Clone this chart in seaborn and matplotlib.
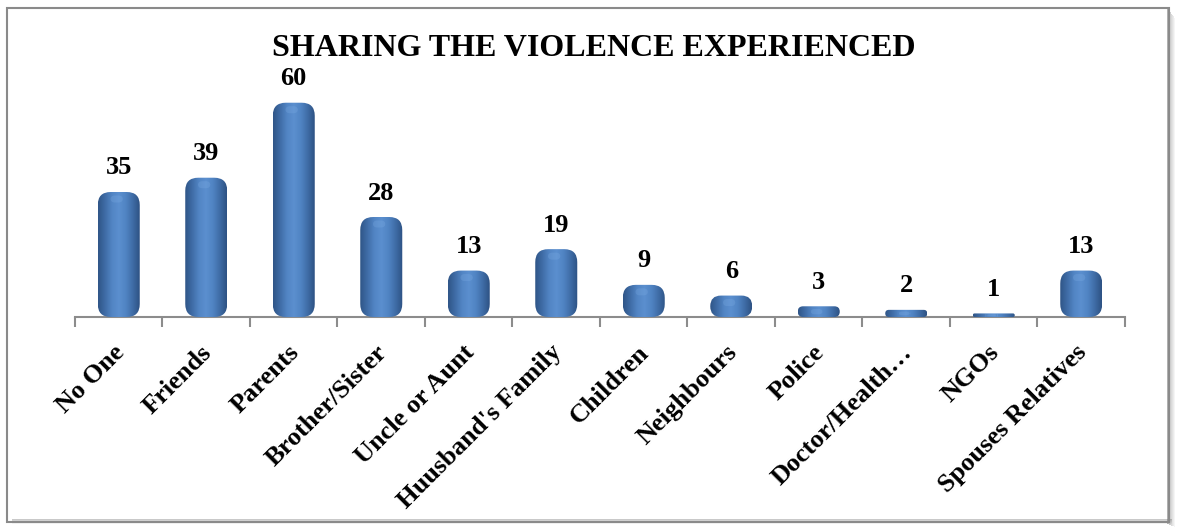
import numpy as np
import matplotlib
matplotlib.use("Agg")
import matplotlib.pyplot as plt
import matplotlib.transforms as mtransforms
from matplotlib.patches import FancyBboxPatch, Rectangle
from matplotlib.colors import LinearSegmentedColormap
import seaborn as sns

# ─── Datos ──────────────────────────────────────────────────────────────────
categories = ["No One", "Friends", "Parents", "Brother/Sister", "Uncle or Aunt",
              "Huusband's Family", "Children", "Neighbours", "Police",
              "Doctor/Health\u2026", "NGOs", "Spouses Relatives"]
values = [35, 39, 60, 28, 13, 19, 9, 6, 3, 2, 1, 13]
title = "SHARING THE VIOLENCE EXPERIENCED"

# ─── Estilo ─────────────────────────────────────────────────────────────────
sns.set_style("white")
plt.rcParams['font.family'] = ['Liberation Serif', 'DejaVu Serif']
plt.rcParams['font.weight'] = 'bold'

W, H = 1180, 528
fig = plt.figure(figsize=(W / 100, H / 100), dpi=100)
ax = fig.add_axes([75 / W, 1 - 317 / H, 1050 / W, 250 / H])

sns.barplot(x=categories, y=values, color="#4f81bd", width=0.48, ax=ax)

YMAX = 70
ax.set_xlim(-0.5, len(categories) - 0.5)
ax.set_ylim(0, YMAX)

# ─── Barras redondeadas tipo cilindro ───────────────────────────────────────
px_x = 1050 / len(categories)       # pixeles por unidad x
px_y = 250 / YMAX                   # pixeles por unidad y
aspect = px_x / px_y
grad = LinearSegmentedColormap.from_list(
    "cyl", ["#2f5587", "#3f6ca6", "#5285c4", "#5b8fcf", "#5084c3",
            "#3f6ca6", "#2d5283"])
prof = np.linspace(0, 1, 200)[None, :]

for p in list(ax.patches):
    x0, w, h = p.get_x(), p.get_width(), p.get_height()
    p.set_visible(False)
    r_px = min(13, h * px_y / 2 - 0.01, w * px_x / 2)
    r = max(r_px, 0.5) / px_x
    fb = FancyBboxPatch((x0, 0), w, h,
                        boxstyle=f"round,pad=0,rounding_size={r}",
                        mutation_aspect=aspect, facecolor="none",
                        edgecolor="none", zorder=3)
    ax.add_patch(fb)
    im = ax.imshow(prof, cmap=grad, extent=[x0, x0 + w, 0, h], aspect='auto',
                   interpolation='bicubic', zorder=3)
    im.set_clip_path(fb)
    # brillo superior suave
    hh = min(h, 14 / px_y)
    top = FancyBboxPatch((x0 + w * 0.3, h - hh * 0.75), w * 0.3, hh * 0.5,
                         boxstyle="round,pad=0,rounding_size=0.05",
                         mutation_aspect=aspect, facecolor="#8fbdf0",
                         edgecolor="none", alpha=0.2, zorder=4)
    ax.add_patch(top)
    top.set_clip_path(fb)

ax.set_xlim(-0.5, len(categories) - 0.5)
ax.set_ylim(0, YMAX)

# Etiquetas de valores
for i, v in enumerate(values):
    ax.annotate(str(v), (i, v), xytext=(0, 9), textcoords="offset points",
                ha="center", va="bottom", fontsize=19, fontweight="bold",
                color="black", zorder=5)

# ─── Ejes ───────────────────────────────────────────────────────────────────
for s in ["top", "right", "left"]:
    ax.spines[s].set_visible(False)
ax.spines["bottom"].set_color("#8c8c8c")
ax.spines["bottom"].set_linewidth(1.5)
ax.set_yticks([])
ax.set_xticks(range(len(categories)))
ax.set_xticks(np.arange(-0.5, len(categories)), minor=True)
ax.tick_params(axis="x", which="major", length=0, pad=23, labelcolor="black")
ax.tick_params(axis="x", which="minor", bottom=True, length=7, width=1.5,
               color="#8c8c8c", direction="out")
ax.set_xticklabels(categories, rotation=45, ha="right", va="center",
                   rotation_mode="anchor", fontsize=19, fontweight="bold")
off = mtransforms.ScaledTranslation(2 / 100, 0, fig.dpi_scale_trans)
for lab in ax.get_xticklabels():
    lab.set_transform(lab.get_transform() + off)
ax.set_xlabel("")
ax.set_ylabel("")

fig.text(594 / W, 1 - 48 / H, title, ha="center", va="center",
         fontsize=23, fontweight="bold", color="black")

# ─── Marco con sombra ───────────────────────────────────────────────────────
for k in range(8):
    a = 0.45 * (1 - k / 8)
    fig.add_artist(Rectangle(((1167 + k) / W, (H - 524 - k * 0.4) / H), 1 / W,
                             (516 - k) / H, transform=fig.transFigure,
                             facecolor="#555555", edgecolor="none", alpha=a))
for k in range(5):
    a = 0.35 * (1 - k / 5)
    fig.add_artist(Rectangle((12 / W, (H - 520 - k) / H), 1160 / W, 1 / H,
                             transform=fig.transFigure,
                             facecolor="#666666", edgecolor="none", alpha=a))
fig.add_artist(Rectangle((7 / W, (H - 522) / H), 1162 / W, 514 / H,
                         transform=fig.transFigure, facecolor="none",
                         edgecolor="#8a8a8a", linewidth=1.5))

plt.savefig("out.png", dpi=100)
